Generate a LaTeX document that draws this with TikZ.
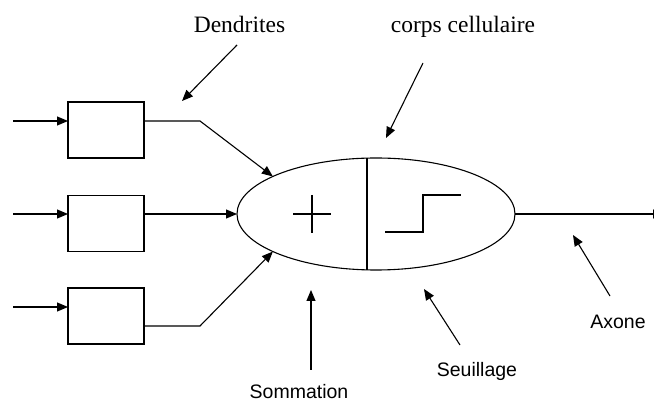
\documentclass[tikz,border=0pt]{standalone}
\usepackage{fontspec}
\usetikzlibrary{arrows.meta,shapes.geometric}
\newfontfamily\labelserif{Liberation Serif}
\newfontfamily\labelsans{Liberation Sans}
\begin{document}
\begin{tikzpicture}[x=1pt,y=-1pt,
  line width=1.1pt,
  arr/.style={-{Triangle[length=11pt,width=9pt]}},
  synbox/.style={draw,rectangle,minimum width=76pt,minimum height=56pt,inner sep=0pt,outer sep=0pt},
  soma/.style={draw,ellipse,minimum width=278pt,minimum height=112pt,inner sep=0pt,outer sep=0pt},
  serlab/.style={anchor=base,inner sep=0pt,font=\labelserif\fontsize{23.5}{28}\selectfont},
  sanlab/.style={anchor=base,inner sep=0pt,font=\labelsans\fontsize{19.5}{23}\selectfont}]
\clip (0,0) rectangle (654,403);
\fill[white] (0,0) rectangle (654,403);

% synapse boxes and the cell body
\node[synbox] (box1) at (106,130) {};
\node[synbox] (box2) at (106,223.5) {};
\node[synbox] (box3) at (106,316) {};
\node[soma] (body) at (376,214) {};

% summation and threshold halves
\draw ([xshift=-9pt]body.north) -- ([xshift=-9pt]body.south);
\draw (293,214) -- (331,214) (312,195) -- (312,233);
\draw (385,232) -- (423,232) -- (423,195) -- (461,195);

% inputs
\coordinate (in1) at (13,121);
\coordinate (in2) at (13,214);
\coordinate (in3) at (13,307);
\draw[arr] (in1) -- (in1 -| box1.west);
\draw[arr] (in2) -- (in2 -| box2.west);
\draw[arr] (in3) -- (in3 -| box3.west);

% dendrites towards the body
\coordinate (k1) at (200,121);
\coordinate (k3) at (200,326);
\draw[arr] (k1 -| box1.east) -- (k1) -- (body.160);
\draw[arr] (in2 -| box2.east) -- (body.west);
\draw[arr] (k3 -| box3.east) -- (k3) -- (body.200);

% axon
\coordinate (axend) at (664,214);
\draw[arr] (body.east) -- (axend);

% labels
\node[serlab] (ldend) at (239.5,33) {Dendrites};
\node[serlab] (lcorps) at (463,33) {corps cellulaire};
\node[sanlab] (lsom) at (299,398.5) {Sommation};
\node[sanlab] (lseuil) at (477,377) {Seuillage};
\node[sanlab] (laxone) at (618,329) {Axone};

% pointer arrows
\coordinate (pd0) at (237,45);  \coordinate (pd1) at (182,101);
\coordinate (pc0) at (423,63);  \coordinate (pc1) at (386,138);
\coordinate (ps0) at (311,370); \coordinate (ps1) at (311,290);
\coordinate (pt0) at (460,345); \coordinate (pt1) at (424,289);
\coordinate (pa0) at (610,296); \coordinate (pa1) at (573,235);
\draw[arr] (pd0) -- (pd1);
\draw[arr] (pc0) -- (pc1);
\draw[arr] (ps0) -- (ps1);
\draw[arr] (pt0) -- (pt1);
\draw[arr] (pa0) -- (pa1);
\end{tikzpicture}
\end{document}
